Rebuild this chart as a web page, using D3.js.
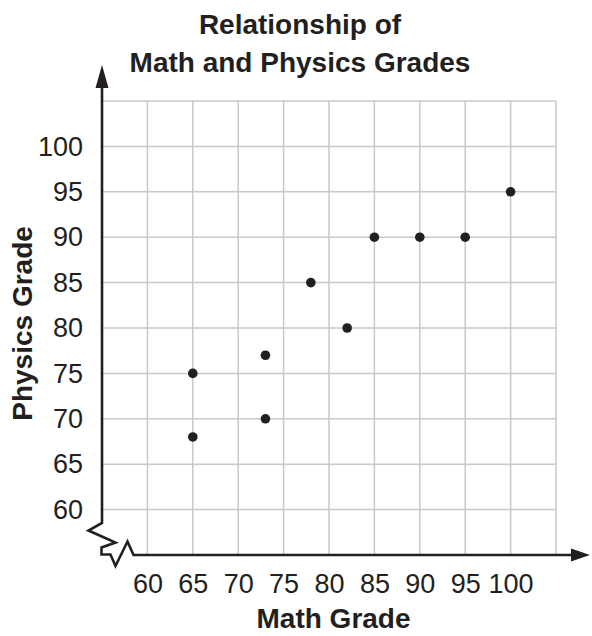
<!DOCTYPE html>
<html>
<head>
<meta charset="utf-8">
<script src="https://cdn.jsdelivr.net/npm/d3@7"></script>
<style>
  body { margin: 0; background: #fff; }
  svg { display: block; font-family: "Liberation Sans", Arial, Helvetica, sans-serif; }
</style>
</head>
<body>
<div id="chart"></div>
<script>
// data
const mathGrades    = [65, 65, 73, 73, 78, 82, 85, 90, 95, 100];
const physicsGrades = [75, 68, 77, 70, 85, 80, 90, 90, 90, 95];
const xTicks = [60, 65, 70, 75, 80, 85, 90, 95, 100];
const yTicks = [60, 65, 70, 75, 80, 85, 90, 95, 100];
const gridValues = [60, 65, 70, 75, 80, 85, 90, 95, 100, 105];

const width = 592, height = 636;
const ink = "#231f20";

const svg = d3.select("#chart").append("svg")
  .attr("width", width)
  .attr("height", height);

const x = d3.scaleLinear().domain([55, 105]).range([102, 556]);
const y = d3.scaleLinear().domain([55, 105]).range([555, 101]);

// title
const title = svg.append("text")
  .attr("text-anchor", "middle")
  .attr("font-weight", "bold")
  .attr("font-size", 28)
  .attr("fill", ink);
title.append("tspan").attr("x", 300).attr("y", 34).text("Relationship of");
title.append("tspan").attr("x", 300).attr("y", 72).text("Math and Physics Grades");

// grid
const grid = svg.append("g").attr("class", "grid");
grid.selectAll(".gx").data(gridValues).enter()
  .append("line")
  .attr("x1", d => x(d)).attr("x2", d => x(d))
  .attr("y1", y(55)).attr("y2", y(105))
  .attr("stroke", "#c9c9c9").attr("stroke-width", 1.5);
grid.selectAll(".gy").data(gridValues).enter()
  .append("line")
  .attr("y1", d => y(d)).attr("y2", d => y(d))
  .attr("x1", x(55)).attr("x2", x(105))
  .attr("stroke", "#c9c9c9").attr("stroke-width", 1.5);

// tick labels
const xAxis = svg.append("g")
  .attr("transform", "translate(0," + y(55) + ")")
  .call(d3.axisBottom(x).tickValues(xTicks).tickSize(0).tickPadding(19));
const yAxis = svg.append("g")
  .attr("transform", "translate(" + x(55) + ",0)")
  .call(d3.axisLeft(y).tickValues(yTicks).tickSize(0).tickPadding(19));
[xAxis, yAxis].forEach(g => {
  g.select(".domain").remove();
  g.selectAll("text")
    .attr("font-family", "'Liberation Sans', Arial, Helvetica, sans-serif")
    .attr("font-size", 27)
    .attr("fill", ink);
});

// axis lines with break and arrows
const ox = x(55), oy = y(55);
const axisPath = d3.path();
axisPath.moveTo(ox, 87);
axisPath.lineTo(ox, oy - 32);
axisPath.lineTo(ox - 13.5, oy - 24.5);
axisPath.lineTo(ox + 13.5, oy - 12.5);
axisPath.lineTo(ox - 0.5, oy - 7.5);
axisPath.lineTo(ox - 0.5, oy - 0.5);
axisPath.lineTo(ox + 8.5, oy - 0.5);
axisPath.lineTo(ox + 13.5, oy + 11);
axisPath.lineTo(ox + 25.5, oy - 13.5);
axisPath.lineTo(ox + 31.5, oy);
axisPath.lineTo(574, oy);
svg.append("path")
  .attr("d", axisPath.toString())
  .attr("fill", "none")
  .attr("stroke", ink)
  .attr("stroke-width", 2.6)
  .attr("stroke-linejoin", "miter");

svg.append("path")
  .attr("d", d3.line()([[ox, 65], [ox - 6.5, 88], [ox + 6.5, 88]]) + "Z")
  .attr("fill", ink);
svg.append("path")
  .attr("d", d3.line()([[590, oy], [571, oy - 6.5], [571, oy + 6.5]]) + "Z")
  .attr("fill", ink);

// axis titles
svg.append("text")
  .attr("x", x(80.5)).attr("y", 628)
  .attr("text-anchor", "middle")
  .attr("font-weight", "bold").attr("font-size", 28)
  .attr("fill", ink)
  .text("Math Grade");
svg.append("text")
  .attr("transform", "translate(32," + y(80.5) + ") rotate(-90)")
  .attr("text-anchor", "middle")
  .attr("font-weight", "bold").attr("font-size", 28)
  .attr("fill", ink)
  .text("Physics Grade");

// points
const pts = mathGrades.map((m, i) => ({m: m, p: physicsGrades[i]}));
svg.append("g").selectAll("circle").data(pts).enter()
  .append("circle")
  .attr("cx", d => x(d.m))
  .attr("cy", d => y(d.p))
  .attr("r", 4.8)
  .attr("fill", ink);
</script>
</body>
</html>
